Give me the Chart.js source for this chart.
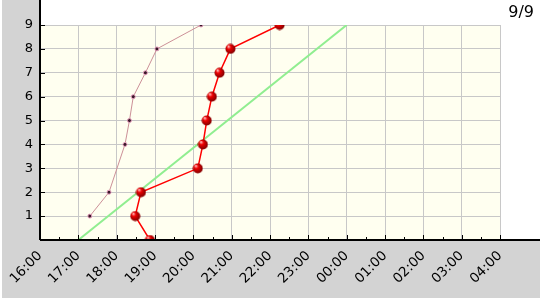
<!DOCTYPE html>
<html>
<head>
<meta charset="utf-8">
<script src="https://cdn.jsdelivr.net/npm/chart.js@4"></script>
<style>
  html, body { margin: 0; padding: 0; background: #fff; }
  canvas { display: block; }
</style>
</head>
<body>
<canvas id="chart" width="540" height="300"></canvas>
<script>
// データ（時刻は 16:00 起点で時間に換算）
const titleText = "9/9";
const redTimes = ["18:52", "18:29", "18:38", "20:07", "20:15", "20:21", "20:29", "20:41", "20:58", "22:15"];
const redCounts = [0, 1, 2, 3, 4, 5, 6, 7, 8, 9];
const pinkTimes = ["17:18", "17:48", "18:13", "18:20", "18:26", "18:45", "19:03", "20:12"];
const pinkCounts = [1, 2, 4, 5, 6, 7, 8, 9];
const greenTimes = ["17:00", "00:00"];
const greenCounts = [0, 9];
const hourTicks = [0, 1, 2, 3, 4, 5, 6, 7, 8, 9, 10, 11, 12];
const countTicks = [1, 2, 3, 4, 5, 6, 7, 8, 9];

const START_HOUR = 16;

function toHours(t) {
  const [h, m] = t.split(":").map(Number);
  let hh = h < START_HOUR ? h + 24 : h;
  return hh - START_HOUR + m / 60;
}

function toPoints(times, counts) {
  return times.map((t, i) => ({ x: toHours(t), y: counts[i] }));
}

function fmtHour(v) {
  const h = (START_HOUR + v) % 24;
  return String(h).padStart(2, "0") + ":00";
}

// 赤い玉のポイント
function makeBall(r) {
  const c = document.createElement("canvas");
  const s = r * 2 + 1;
  c.width = s;
  c.height = s;
  const g = c.getContext("2d");
  const grad = g.createRadialGradient(r * 0.7, r * 0.6, 0.5, r, r, r);
  grad.addColorStop(0, "#ffb0b0");
  grad.addColorStop(0.35, "#ee0000");
  grad.addColorStop(1, "#8a0000");
  g.fillStyle = grad;
  g.beginPath();
  g.arc(r + 0.5, r + 0.5, r, 0, Math.PI * 2);
  g.fill();
  return c;
}

const FONT = "'DejaVu Sans', sans-serif";
const GRAY = "#d3d3d3";

const framePlugin = {
  id: "frame",
  beforeDraw(chart) {
    const { ctx, chartArea: a } = chart;
    ctx.save();
    ctx.fillStyle = "#ffffff";
    ctx.fillRect(0, 0, chart.width, chart.height);
    ctx.fillStyle = GRAY;
    ctx.fillRect(2, 0, a.left - 2, 298);
    ctx.fillRect(2, a.bottom, chart.width - 2, 298 - a.bottom);
    ctx.fillStyle = "#fffff0";
    ctx.fillRect(a.left, a.top, a.right - a.left, a.bottom - a.top);
    ctx.restore();
  },
  afterDraw(chart) {
    const { ctx, chartArea: a, scales } = chart;
    ctx.save();
    ctx.strokeStyle = "#000";
    ctx.lineWidth = 1;
    // 目盛り
    ctx.beginPath();
    hourTicks.forEach(v => {
      const px = Math.round(scales.x.getPixelForValue(v)) + 0.5;
      ctx.moveTo(px, a.bottom);
      ctx.lineTo(px, a.bottom - 5);
      if (v < hourTicks[hourTicks.length - 1]) {
        const mx = Math.round(scales.x.getPixelForValue(v + 0.5)) + 0.5;
        ctx.moveTo(mx, a.bottom);
        ctx.lineTo(mx, a.bottom - 3);
      }
    });
    countTicks.forEach(v => {
      const py = Math.round(scales.y.getPixelForValue(v)) + 0.5;
      ctx.moveTo(a.left, py);
      ctx.lineTo(a.left + 5, py);
    });
    ctx.stroke();
    // 軸
    ctx.lineWidth = 2;
    ctx.beginPath();
    ctx.moveTo(a.left, 0);
    ctx.lineTo(a.left, a.bottom);
    ctx.moveTo(a.left, a.bottom);
    ctx.lineTo(chart.width, a.bottom);
    ctx.stroke();
    // タイトル
    ctx.fillStyle = "#000";
    ctx.font = "16px " + FONT;
    ctx.textAlign = "right";
    ctx.textBaseline = "alphabetic";
    ctx.fillText(titleText, 534, 17);
    ctx.restore();
  }
};

document.addEventListener("DOMContentLoaded", () => {
  const ball = makeBall(5);
  new Chart(document.getElementById("chart"), {
    type: "scatter",
    data: {
      datasets: [
        {
          data: toPoints(redTimes, redCounts),
          showLine: true,
          borderColor: "#ff0000",
          borderWidth: 1.5,
          pointStyle: ball,
          clip: 0
        },
        {
          data: toPoints(pinkTimes, pinkCounts),
          showLine: true,
          borderColor: "#cc9098",
          borderWidth: 1,
          pointRadius: 2,
          pointBackgroundColor: "#3a1828",
          pointBorderColor: "#e8a0c0",
          pointBorderWidth: 1,
          clip: 0
        },
        {
          data: toPoints(greenTimes, greenCounts),
          showLine: true,
          borderColor: "#90ee90",
          borderWidth: 2,
          pointRadius: 0,
          clip: 0
        }
      ]
    },
    options: {
      responsive: false,
      animation: false,
      events: [],
      layout: { padding: { left: 2, right: 40, top: 25, bottom: 2 } },
      plugins: {
        legend: { display: false },
        tooltip: { enabled: false },
        title: { display: false }
      },
      scales: {
        x: {
          type: "linear",
          min: 0,
          max: 12,
          afterFit: s => { s.height = 58; },
          afterBuildTicks: s => { s.ticks = hourTicks.map(v => ({ value: v })); },
          border: { display: false },
          grid: { color: "#c8c8c8", lineWidth: 1, drawTicks: false },
          ticks: {
            minRotation: 45,
            maxRotation: 45,
            padding: 8,
            color: "#000",
            font: { family: FONT, size: 13.5 },
            callback: v => fmtHour(v)
          }
        },
        y: {
          type: "linear",
          min: 0,
          max: 9,
          afterFit: s => { s.width = 38; },
          afterBuildTicks: s => { s.ticks = [0].concat(countTicks).map(v => ({ value: v })); },
          border: { display: false },
          grid: { color: "#c8c8c8", lineWidth: 1, drawTicks: false },
          ticks: {
            padding: 7,
            color: "#000",
            font: { family: FONT, size: 13 },
            callback: v => (v === 0 ? "" : String(v))
          }
        }
      }
    },
    plugins: [framePlugin]
  });
});
</script>
</body>
</html>
